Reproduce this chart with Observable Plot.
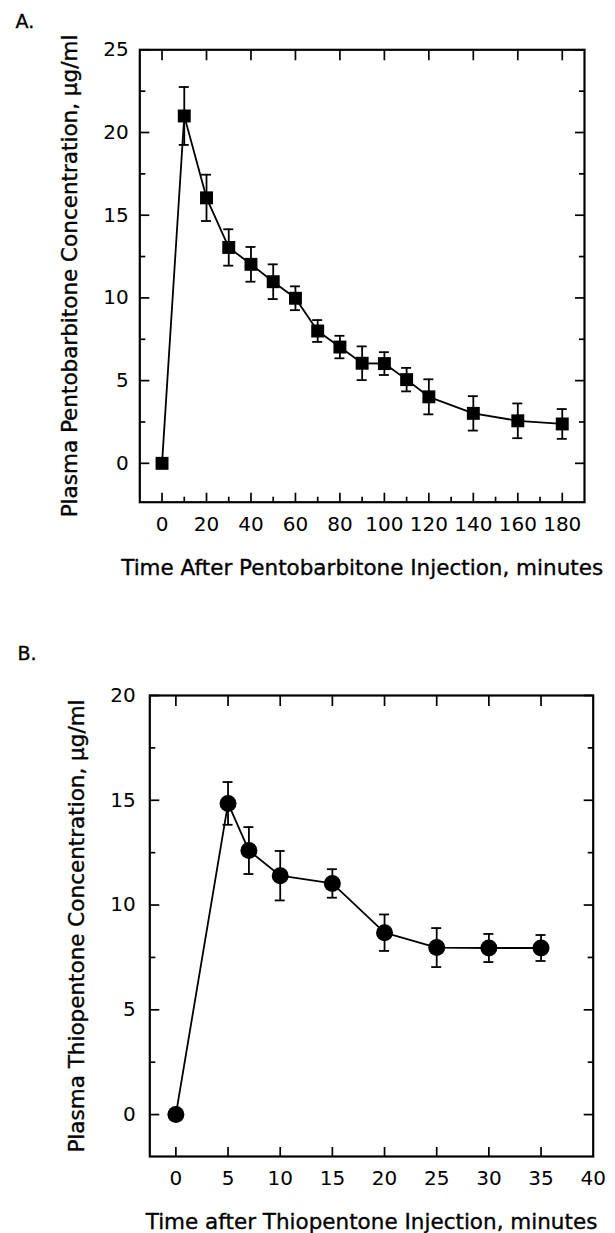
<!DOCTYPE html>
<html><head><meta charset="utf-8">
<script src="https://cdn.jsdelivr.net/npm/d3@7"></script>
<script src="https://cdn.jsdelivr.net/npm/@observablehq/plot@0.6"></script>
<style>
html,body{margin:0;padding:0;background:#fff;}
#chart{width:615px;}
#chart svg{display:block;}
</style></head><body><div id="chart"></div>
<script>
// Panel A: pentobarbitone
const pentoTime = [0, 10, 20, 30, 40, 50, 60, 70, 80, 90, 100, 110, 120, 140, 160, 180];
const pentoConc = [0, 21.0, 16.05, 13.05, 12.03, 10.98, 9.98, 8.0, 7.03, 6.05, 6.03, 5.06, 4.02, 3.02, 2.57, 2.38];
const pentoErr  = [0, 1.75, 1.4, 1.1, 1.05, 1.05, 0.72, 0.66, 0.68, 1.02, 0.69, 0.71, 1.06, 1.04, 1.05, 0.9];
const pentoXTicks = [0, 20, 40, 60, 80, 100, 120, 140, 160, 180];
const pentoXMinor = [10, 30, 50, 70, 90, 110, 130, 150, 170];
const pentoYTicks = [0, 5, 10, 15, 20, 25];
const pentoYMinor = [2.5, 7.5, 12.5, 17.5, 22.5];

// Panel B: thiopentone
const thioTime = [0, 5, 7, 10, 15, 20, 25, 30, 35];
const thioConc = [0, 14.85, 12.6, 11.4, 11.03, 8.68, 7.97, 7.95, 7.95];
const thioErr  = [0, 1.02, 1.12, 1.18, 0.68, 0.87, 0.93, 0.67, 0.62];
const thioXTicks = [0, 5, 10, 15, 20, 25, 30, 35, 40];
const thioXTopTicks = [0, 5, 10, 15, 20, 25, 30, 35];
const thioYTicks = [0, 5, 10, 15, 20];
const thioYMinor = [2.5, 7.5, 12.5, 17.5];

const FONT = "DejaVu Sans";
const TICK_FONT = 20;

function panel(cfg) {
  const data = cfg.time.map((t, i) => ({t, c: cfg.conc[i], e: cfg.err[i]}));
  const errData = data.filter(d => d.e > 0);
  const blank = () => "";
  const tickW = 1.7;
  const lw = 1.8;
  const textStroke = {stroke: "black", strokeWidth: 0.35};
  const marks = [
    Plot.frame({stroke: "black", strokeWidth: 2.2}),
    // inward ticks
    Plot.axisX(cfg.xTicks, {anchor: "bottom", tickSize: -9, tickFormat: blank, label: null, strokeWidth: tickW}),
    Plot.axisX(cfg.topTicks, {anchor: "top", tickSize: -10, tickFormat: blank, label: null, strokeWidth: tickW}),
    Plot.axisY(cfg.yTicks, {anchor: "left", tickSize: -10, tickFormat: blank, label: null, strokeWidth: tickW}),
    Plot.axisY(cfg.yTicks, {anchor: "right", tickSize: -10, tickFormat: blank, label: null, strokeWidth: tickW}),
    Plot.axisY(cfg.yMinor, {anchor: "left", tickSize: -6, tickFormat: blank, label: null, strokeWidth: tickW}),
    Plot.axisY(cfg.yMinor, {anchor: "right", tickSize: -6, tickFormat: blank, label: null, strokeWidth: tickW}),
    // tick labels
    Plot.axisX(cfg.xLabelTicks, {anchor: "bottom", tickSize: 0, tickPadding: cfg.xPad, tickFormat: d => String(d), label: null, fontSize: TICK_FONT, fill: "black", ...textStroke}),
    Plot.axisY(cfg.yTicks, {anchor: "left", tickSize: 0, tickPadding: cfg.yPad, tickFormat: d => String(d), label: null, fontSize: TICK_FONT, fill: "black", ...textStroke}),
    // data
    Plot.line(data, {x: "t", y: "c", stroke: "black", strokeWidth: lw}),
    Plot.ruleX(errData, {x: "t", y1: d => d.c - d.e, y2: d => d.c + d.e, stroke: "black", strokeWidth: lw}),
    Plot.ruleY(errData, {y: d => d.c + d.e, x1: "t", x2: "t", insetLeft: -5, insetRight: -5, stroke: "black", strokeWidth: lw}),
    Plot.ruleY(errData, {y: d => d.c - d.e, x1: "t", x2: "t", insetLeft: -5, insetRight: -5, stroke: "black", strokeWidth: lw}),
    Plot.dot(data, {x: "t", y: "c", symbol: cfg.symbol, r: cfg.r, fill: "black", stroke: "none"}),
    // titles
    Plot.text([cfg.xTitle], {frameAnchor: "bottom", dy: cfg.xTitleDy, lineAnchor: "middle", textAnchor: "middle", text: d => d, fontSize: 21.5, fill: "black", ...textStroke}),
    Plot.text([cfg.yTitle], {frameAnchor: "left", rotate: -90, dx: cfg.yTitleDx, lineAnchor: "middle", textAnchor: "middle", text: d => d, fontSize: 21.5, fill: "black", ...textStroke}),
    Plot.text([cfg.letter], {frameAnchor: "top-left", dx: cfg.letterDx, dy: cfg.letterDy, lineAnchor: "middle", textAnchor: "start", text: d => d, fontSize: 19, fill: "black", ...textStroke})
  ];
  if (cfg.xMinor) {
    marks.splice(2, 0, Plot.axisX(cfg.xMinor, {anchor: "bottom", tickSize: -5, tickFormat: blank, label: null, strokeWidth: tickW}));
  }
  return Plot.plot({
    width: 615,
    height: cfg.height,
    marginTop: cfg.mt, marginRight: cfg.mr, marginBottom: cfg.mb, marginLeft: cfg.ml,
    style: {fontFamily: FONT, fontSize: "20px", color: "black", background: "white"},
    x: {type: "linear", domain: cfg.xDomain},
    y: {type: "linear", domain: cfg.yDomain},
    marks
  });
}

const chart = document.getElementById("chart");

chart.appendChild(panel({
  time: pentoTime, conc: pentoConc, err: pentoErr,
  xTicks: pentoXTicks, xMinor: pentoXMinor, topTicks: pentoXTicks, xLabelTicks: pentoXTicks,
  yTicks: pentoYTicks, yMinor: pentoYMinor,
  xDomain: [-10, 190], yDomain: [-2.35, 25],
  height: 615, mt: 49.3, mr: 31, mb: 113.3, ml: 139.3,
  xPad: 15, yPad: 11,
  symbol: "square", r: 7.3,
  xTitle: "Time After Pentobarbitone Injection, minutes",
  yTitle: "Plasma Pentobarbitone Concentration, \u03bcg/ml",
  xTitleDy: 66.3, yTitleDx: -69.3,
  letter: "A.", letterDx: -124.3, letterDy: -27.7
}));

chart.appendChild(panel({
  time: thioTime, conc: thioConc, err: thioErr,
  xTicks: thioXTopTicks, topTicks: thioXTopTicks, xLabelTicks: thioXTicks,
  yTicks: thioYTicks, yMinor: thioYMinor,
  xDomain: [-2.5, 40], yDomain: [-2, 20],
  height: 618, mt: 80, mr: 22.3, mb: 77, ml: 149.3,
  xPad: 14, yPad: 14,
  symbol: "circle", r: 8.5,
  xTitle: "Time after Thiopentone Injection, minutes",
  yTitle: "Plasma Thiopentone Concentration, \u03bcg/ml",
  xTitleDy: 66, yTitleDx: -72.3,
  letter: "B.", letterDx: -132.3, letterDy: -41.4
}));
</script>
</body></html>
